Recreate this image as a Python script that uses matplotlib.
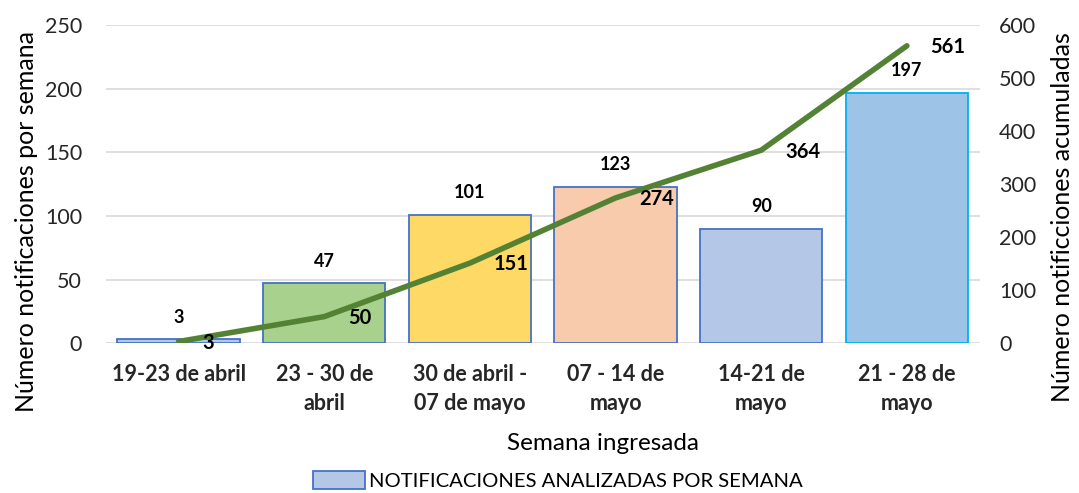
import numpy as np
import matplotlib.pyplot as plt
from matplotlib.patches import Patch

plt.rcParams['font.family'] = ['Lato', 'DejaVu Sans']

semanas = ['19-23 de abril', '23 - 30 de\nabril', '30 de abril -\n07 de mayo',
           '07 - 14 de\nmayo', '14-21 de\nmayo', '21 - 28 de\nmayo']
por_semana = [3, 47, 101, 123, 90, 197]
acumuladas = [3, 50, 151, 274, 364, 561]

bar_colors = ['#B4C7E7', '#A9D18E', '#FFD966', '#F8CBAD', '#B4C7E7', '#9DC3E6']
edge_colors = ['#4472C4', '#4472C4', '#4472C4', '#4472C4', '#4472C4', '#00B0F0']

fig = plt.figure(figsize=(10.79, 4.93), dpi=100)
ax1 = fig.add_axes([0.098, 0.304, 0.810, 0.645])
ax2 = ax1.twinx()

x = np.arange(len(semanas))
ax1.bar(x, por_semana, width=0.84, color=bar_colors, edgecolor=edge_colors,
        linewidth=1.3, zorder=2)
for xi, v in zip(x, por_semana):
    ax1.annotate(str(v), (xi, v), xytext=(0, 16), textcoords='offset points',
                 ha='center', va='center', fontsize=13, fontweight='bold')

ax2.plot(x, acumuladas, color='#548235', linewidth=4, solid_capstyle='round', zorder=3)
for xi, v in zip(x, acumuladas):
    ax2.annotate(str(v), (xi, v), xytext=(17, -1), textcoords='offset points',
                 ha='left', va='center', fontsize=14.5, fontweight='bold')

ax1.set_xlim(-0.5, len(semanas) - 0.5)
ax1.set_ylim(0, 250)
ax2.set_ylim(0, 600)
ax1.set_yticks(np.arange(0, 251, 50))
ax2.set_yticks(np.arange(0, 601, 100))
ax1.set_xticks(x)
ax1.set_xticklabels(semanas, fontsize=13.8, fontweight='bold', linespacing=1.45)

ax1.grid(True, axis='y', color='#D9D9D9', linewidth=1.2, zorder=0)
ax1.set_axisbelow(True)
for ax in (ax1, ax2):
    for s in ax.spines.values():
        s.set_visible(False)
    ax.tick_params(length=0, labelsize=15.5, colors='#262626')
ax1.tick_params(axis='y', pad=17)
ax2.tick_params(axis='y', pad=14)
ax1.tick_params(axis='x', pad=15)

ax1.set_ylabel('Número notificaciones por semana', fontsize=18)
ax2.set_ylabel('Número notificciones acumuladas', fontsize=18)
ax1.yaxis.set_label_coords(-0.078, 0.384)
ax2.yaxis.set_label_coords(1.082, 0.396)
ax1.set_xlabel('Semana ingresada', fontsize=17.5)
ax1.xaxis.set_label_coords(0.569, -0.283)

handle = Patch(facecolor='#B4C7E7', edgecolor='#4472C4', linewidth=1.3)
fig.legend([handle], ['NOTIFICACIONES ANALIZADAS POR SEMANA'], loc='lower center',
           bbox_to_anchor=(0.517, -0.03), frameon=False, fontsize=14.6,
           handlelength=2.6, handleheight=1.0, handletextpad=0.2)

fig.savefig('out.png', dpi=100)
